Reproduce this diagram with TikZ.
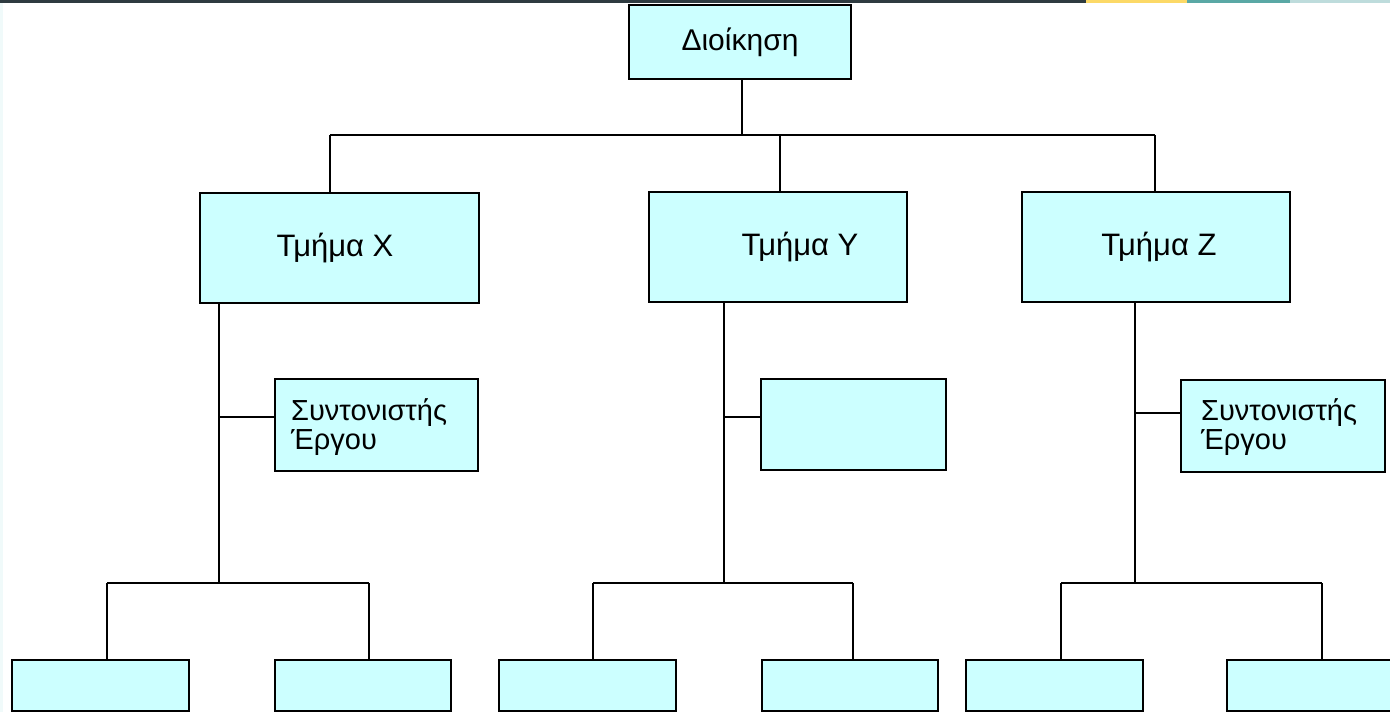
\documentclass[tikz,border=0pt]{standalone}
\usepackage{fontspec}
\setmainfont{Liberation Sans}
\definecolor{boxfill}{HTML}{CCFFFF}
\definecolor{bardark}{HTML}{2E3B40}
\definecolor{baryellow}{HTML}{FCD967}
\definecolor{barteal}{HTML}{5AA8A5}
\definecolor{barlight}{HTML}{BEDCDC}
\definecolor{edgetint}{HTML}{F0FAFA}
\begin{document}
\begin{tikzpicture}[x=1pt,y=-1pt,
  box/.style={draw=black, line width=2pt, fill=boxfill, inner sep=0pt,
              font=\fontsize{31}{31}\selectfont},
  link/.style={draw=black, line width=2pt},
  note/.style={anchor=west, align=left, inner sep=0pt,
               font=\fontsize{29}{29}\selectfont}]
% canvas and header strip
\useasboundingbox (0,0) rectangle (1390,712);
\fill[white] (0,0) rectangle (1390,712);
\fill[edgetint] (0,0) rectangle (3,712);
\fill[bardark] (0,0) rectangle (1086,3);
\fill[baryellow] (1086,0) rectangle (1187,3);
\fill[barteal] (1187,0) rectangle (1290,3);
\fill[barlight] (1290,0) rectangle (1390,3);

% management
\node[box, minimum width=222pt, minimum height=74pt, font=\fontsize{30}{30}\selectfont] (boss) at (740,42) {Διοίκηση};

% departments
\node[box, minimum width=279pt, minimum height=110pt] (tx) at (339.5,248) {\hspace*{-9pt}Τμήμα X};
\node[box, minimum width=258pt, minimum height=110pt] (ty) at (778,247) {\hspace*{44pt}Τμήμα Υ};
\node[box, minimum width=268pt, minimum height=110pt] (tz) at (1156,247) {\hspace*{6pt}Τμήμα Z};

% project coordinators
\node[box, minimum width=203pt, minimum height=92pt] (cx) at (376.5,425) {};
\node[note] (cxt) at (291,427) {Συντονιστής\\Έργου};
\node[box, minimum width=185pt, minimum height=91pt] (cy) at (853,424.5) {};
\node[box, minimum width=204pt, minimum height=92pt] (cz) at (1283,425.5) {};
\node[note] (czt) at (1201,427) {Συντονιστής\\Έργου};

% bottom-level units
\node[box, minimum width=177pt, minimum height=51pt] (b1) at (100.5,685.5) {};
\node[box, minimum width=176pt, minimum height=51pt] (b2) at (363,685.5) {};
\node[box, minimum width=177pt, minimum height=51pt] (b3) at (587.5,685.5) {};
\node[box, minimum width=176pt, minimum height=51pt] (b4) at (850,685.5) {};
\node[box, minimum width=177pt, minimum height=51pt] (b5) at (1054.5,685.5) {};
\node[box, minimum width=177pt, minimum height=51pt] (b6) at (1315.5,685.5) {};

% top-level connectors
\coordinate (hub) at (742,135);
\coordinate (jx) at (330,135);
\coordinate (jy) at (780,135);
\coordinate (jz) at (1155,135);
\draw[link] (boss.south -| hub) -- (hub);
\draw[link] (jx) -- (jz);
\draw[link] (jx) -- (jx |- tx.north);
\draw[link] (jy) -- (jy |- ty.north);
\draw[link] (jz) -- (jz |- tz.north);

% department X branch
\coordinate (sx) at (219,583);
\coordinate (kx) at (219,417);
\coordinate (lx) at (107,583);
\coordinate (rx) at (369,583);
\draw[link] (sx |- tx.south) -- (sx);
\draw[link] (kx) -- (kx -| cx.west);
\draw[link] (lx) -- (rx);
\draw[link] (lx) -- (lx |- b1.north);
\draw[link] (rx) -- (rx |- b2.north);

% department Y branch
\coordinate (sy) at (724,583);
\coordinate (ky) at (724,417);
\coordinate (ly) at (593,583);
\coordinate (ry) at (853,583);
\draw[link] (sy |- ty.south) -- (sy);
\draw[link] (ky) -- (ky -| cy.west);
\draw[link] (ly) -- (ry);
\draw[link] (ly) -- (ly |- b3.north);
\draw[link] (ry) -- (ry |- b4.north);

% department Z branch
\coordinate (sz) at (1135,583);
\coordinate (kz) at (1135,413);
\coordinate (lz) at (1061,583);
\coordinate (rz) at (1322,583);
\draw[link] (sz |- tz.south) -- (sz);
\draw[link] (kz) -- (kz -| cz.west);
\draw[link] (lz) -- (rz);
\draw[link] (lz) -- (lz |- b5.north);
\draw[link] (rz) -- (rz |- b6.north);
\end{tikzpicture}
\end{document}
